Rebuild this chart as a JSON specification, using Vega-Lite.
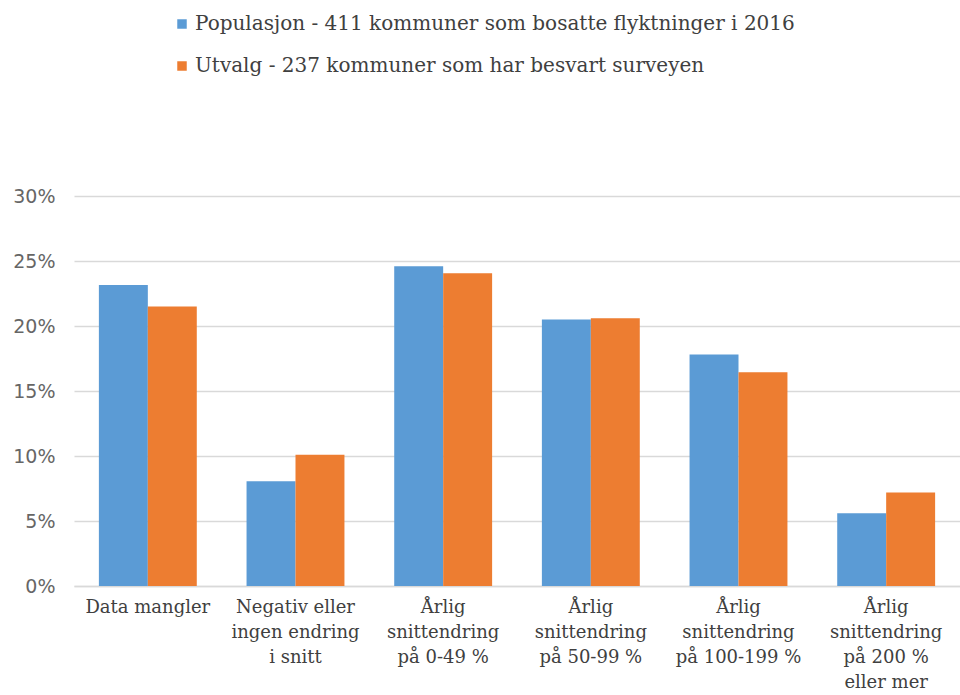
{
  "$schema": "https://vega.github.io/schema/vega-lite/v6.json",
  "width": 886,
  "height": 390,
  "autosize": {"type": "none"},
  "padding": {"left": 74, "top": 196, "right": 0, "bottom": 109},
  "background": "white",
  "data": {
    "values": [
      {"kategori": "Data mangler", "serie": "Populasjon - 411 kommuner som bosatte flyktninger i 2016", "andel": 0.2315},
      {"kategori": "Data mangler", "serie": "Utvalg - 237 kommuner som har besvart surveyen", "andel": 0.215},
      {"kategori": "Negativ eller|ingen endring|i snitt", "serie": "Populasjon - 411 kommuner som bosatte flyktninger i 2016", "andel": 0.0805},
      {"kategori": "Negativ eller|ingen endring|i snitt", "serie": "Utvalg - 237 kommuner som har besvart surveyen", "andel": 0.101},
      {"kategori": "Årlig|snittendring|på 0-49 %", "serie": "Populasjon - 411 kommuner som bosatte flyktninger i 2016", "andel": 0.246},
      {"kategori": "Årlig|snittendring|på 0-49 %", "serie": "Utvalg - 237 kommuner som har besvart surveyen", "andel": 0.2405},
      {"kategori": "Årlig|snittendring|på 50-99 %", "serie": "Populasjon - 411 kommuner som bosatte flyktninger i 2016", "andel": 0.205},
      {"kategori": "Årlig|snittendring|på 50-99 %", "serie": "Utvalg - 237 kommuner som har besvart surveyen", "andel": 0.206},
      {"kategori": "Årlig|snittendring|på 100-199 %", "serie": "Populasjon - 411 kommuner som bosatte flyktninger i 2016", "andel": 0.178},
      {"kategori": "Årlig|snittendring|på 100-199 %", "serie": "Utvalg - 237 kommuner som har besvart surveyen", "andel": 0.1645},
      {"kategori": "Årlig|snittendring|på 200 %|eller mer", "serie": "Populasjon - 411 kommuner som bosatte flyktninger i 2016", "andel": 0.056},
      {"kategori": "Årlig|snittendring|på 200 %|eller mer", "serie": "Utvalg - 237 kommuner som har besvart surveyen", "andel": 0.072}
    ]
  },
  "mark": {"type": "bar"},
  "encoding": {
    "x": {
      "field": "kategori",
      "type": "nominal",
      "sort": null,
      "scale": {"paddingInner": 0.337, "paddingOuter": 0.1685},
      "axis": {
        "title": null,
        "labelAngle": 0,
        "labelExpr": "split(datum.label, '|')",
        "labelFont": "DejaVu Serif",
        "labelFontSize": 18,
        "labelLineHeight": 25,
        "labelColor": "#404040",
        "labelBaseline": "top",
        "labelPadding": 12,
        "labelOverlap": false,
        "labelBound": false,
        "labelLimit": 300,
        "ticks": false,
        "domain": true,
        "domainColor": "#d9d9d9",
        "domainWidth": 1.5,
        "grid": false
      }
    },
    "xOffset": {"field": "serie", "type": "nominal", "scale": {"paddingInner": 0, "paddingOuter": 0}},
    "y": {
      "field": "andel",
      "type": "quantitative",
      "scale": {"domain": [0, 0.3], "nice": false},
      "axis": {
        "title": null,
        "format": ".0%",
        "values": [0, 0.05, 0.1, 0.15, 0.2, 0.25, 0.3],
        "labelFont": "DejaVu Sans",
        "labelFontSize": 19,
        "labelColor": "#666666",
        "labelPadding": 19,
        "ticks": false,
        "domain": false,
        "grid": true,
        "gridColor": "#d9d9d9",
        "gridWidth": 1.5
      }
    },
    "color": {
      "field": "serie",
      "type": "nominal",
      "scale": {"range": ["#5B9BD5", "#ED7D31"]},
      "legend": {
        "title": null,
        "orient": "none",
        "legendX": 98,
        "legendY": -182,
        "direction": "vertical",
        "symbolType": "square",
        "symbolSize": 90,
        "symbolStrokeWidth": 0,
        "symbolOpacity": 1,
        "labelFont": "DejaVu Serif",
        "labelFontSize": 20,
        "labelColor": "#404040",
        "labelOffset": 3,
        "labelLimit": 900,
        "rowPadding": 22
      }
    }
  },
  "config": {"view": {"stroke": null}}
}
